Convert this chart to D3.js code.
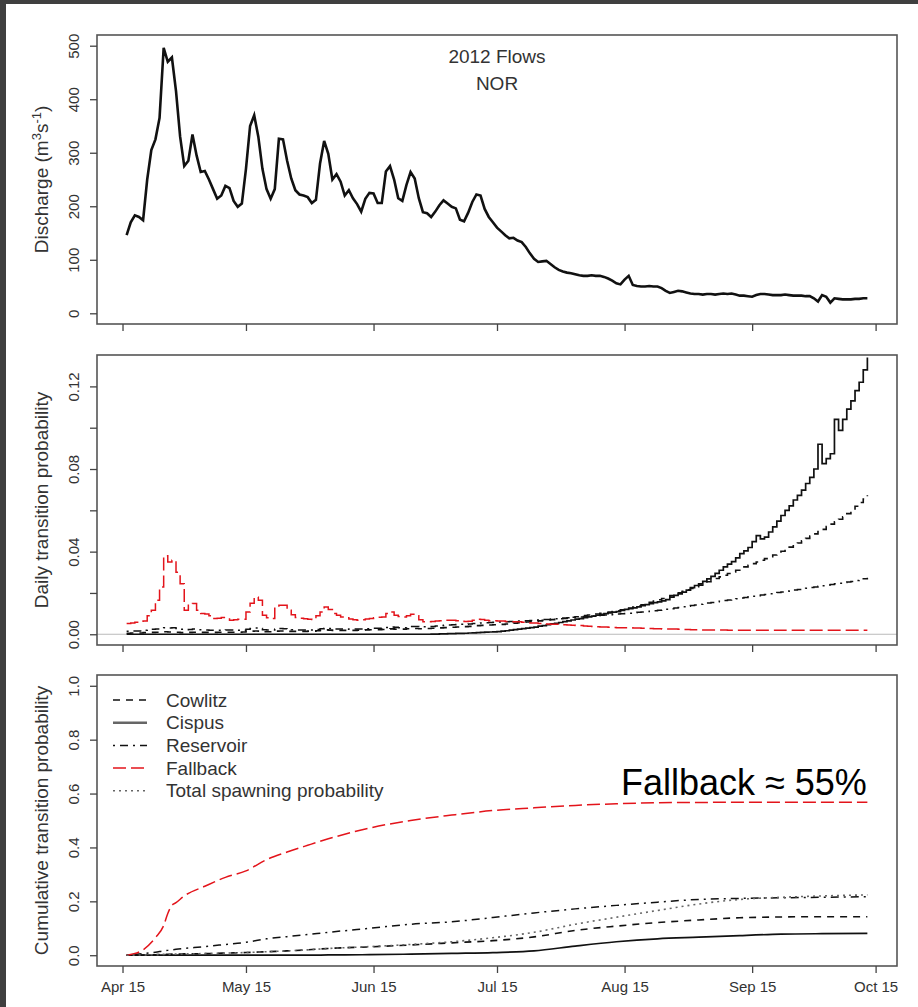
<!DOCTYPE html>
<html>
<head>
<meta charset="utf-8">
<script src="https://cdn.jsdelivr.net/npm/d3@7"></script>
<style>
  body { margin: 0; background: #3f3f3f; }
  svg { display: block; font-family: "Liberation Sans", Arial, sans-serif; }
</style>
</head>
<body>
<div id="chart"></div>
<script>
// 2012 flows, NOR fish: discharge, daily and cumulative transition probabilities

// Daily series start on Apr 16 2012, one value per day to Oct 13
const startDate = new Date(2012, 3, 16)

const discharge = [
  146, 170, 183, 180, 174, 250, 305, 325, 365, 496,
  470, 478, 415, 330, 275, 285, 334, 295, 264, 266,
  250, 232, 214, 220, 238, 234, 210, 199, 205, 270,
  350, 370, 330, 270, 232, 214, 232, 326, 325, 285,
  252, 230, 222, 220, 217, 206, 212, 280, 322, 298,
  250, 260, 246, 220, 230, 215, 204, 190, 214, 225,
  224, 206, 206, 265, 275, 250, 215, 210, 240, 264,
  252, 215, 189, 187, 180, 190, 202, 211, 205, 199,
  196, 175, 172, 188, 208, 222, 220, 195, 180, 170,
  160, 153, 146, 140, 141, 136, 133, 124, 112, 102,
  96, 97, 98, 92, 86, 81, 78, 76, 75, 73,
  71, 70, 70, 71, 70, 70, 68, 65, 61, 56,
  54, 63, 70, 53, 51, 50, 50, 51, 50, 50,
  47, 42, 38, 40, 42, 41, 39, 37, 36, 36,
  35, 36, 36, 35, 36, 37, 36, 37, 35, 33,
  33, 32, 31, 34, 36, 36, 35, 34, 34, 34,
  35, 34, 33, 33, 33, 32, 32, 28, 22, 34,
  31, 20, 28, 27, 26, 26, 26, 27, 27, 28, 28
]

const dailyFallback = [
  .0052, .0055, .0058, .0058, .0064, .0090, .0116, .0165, .0229, .0380,
  .0350, .0358, .0300, .0245, .0116, .0140, .0149, .0116, .0100, .0098,
  .0090, .0076, .0078, .0081, .0080, .0068, .0070, .0073, .0073, .0108,
  .0150, .0180, .0165, .0092, .0080, .0076, .0132, .0140, .0140, .0116,
  .0095, .0081, .0078, .0075, .0073, .0071, .0090, .0108, .0132, .0120,
  .0100, .0092, .0084, .0080, .0074, .0070, .0068, .0070, .0074, .0076,
  .0080, .0082, .0084, .0100, .0108, .0092, .0086, .0084, .0090, .0097,
  .0090, .0070, .0060, .0061, .0062, .0064, .0066, .0068, .0068, .0068,
  .0066, .0063, .0062, .0063, .0068, .0073, .0072, .0068, .0066, .0065,
  .0064, .0064, .0062, .0061, .0060, .0060, .0058, .0056, .0055, .0054,
  .0052, .0051, .0050, .0049, .0048, .0047, .0046, .0045, .0044, .0043,
  .0042, .0040, .0039, .0038, .0036, .0035, .0035, .0034, .0033, .0032,
  .0032, .0031, .0031, .0030, .0030, .0029, .0029, .0028, .0027, .0027,
  .0026, .0026, .0025, .0025, .0024, .0023, .0023, .0022, .0022, .0021,
  .0021, .0021, .0021, .0021, .0021, .0021, .0020, .0020, .0020, .0020,
  .0020, .0020, .0020, .0020, .0020, .0020, .0020, .0020, .0020, .0020,
  .0019, .0019, .0019, .0019, .0019, .0019, .0019, .0019, .0019, .0019,
  .0019, .0019, .0019, .0019, .0019, .0019, .0019, .0019, .0019, .0019, .0019
]

const dailyCowlitz = [
  .0005, .0006, .0006, .0006, .0008, .0009, .0009, .0010, .0010, .0012,
  .0011, .0011, .0010, .0008, .0009, .0009, .0010, .0009, .0009, .0009,
  .0009, .0009, .0010, .0010, .0010, .0010, .0010, .0010, .0011, .0013,
  .0015, .0016, .0015, .0012, .0012, .0012, .0015, .0016, .0016, .0014,
  .0014, .0014, .0014, .0014, .0015, .0015, .0017, .0019, .0021, .0020,
  .0019, .0019, .0019, .0019, .0019, .0019, .0020, .0020, .0021, .0022,
  .0022, .0022, .0023, .0025, .0026, .0025, .0025, .0025, .0027, .0028,
  .0028, .0027, .0027, .0028, .0029, .0030, .0031, .0032, .0033, .0034,
  .0035, .0036, .0037, .0038, .0040, .0042, .0043, .0044, .0045, .0046,
  .0047, .0048, .0050, .0052, .0054, .0056, .0058, .0059, .0061, .0063,
  .0065, .0067, .0069, .0071, .0073, .0075, .0077, .0080, .0082, .0085,
  .0087, .0090, .0093, .0095, .0098, .0101, .0104, .0107, .0110, .0113,
  .0118, .0122, .0127, .0132, .0137, .0143, .0149, .0155, .0161, .0167,
  .0173, .0180, .0187, .0194, .0201, .0208, .0215, .0222, .0230, .0238,
  .0246, .0254, .0262, .0270, .0278, .0286, .0294, .0302, .0310, .0318,
  .0326, .0334, .0342, .0350, .0358, .0366, .0375, .0384, .0393, .0402,
  .0412, .0422, .0432, .0442, .0453, .0464, .0475, .0486, .0497, .0508,
  .0521, .0533, .0545, .0557, .0569, .0584, .0602, .0620, .0638, .0655, .0673
]

const dailyCispus = [
  0, 0, 0, 0, 0, 0, 0, 0, 0, 0,
  0, 0, 0, 0, 0, 0, 0, 0, 0, 0,
  0, 0, 0, 0, 0, 0, 0, 0, 0, 0,
  0, 0, 0, 0, 0, 0, 0, 0, 0, 0,
  0, 0, 0, 0, 0, 0, 0, 0, 0, 0,
  0, 0, 0, 0, 0, 0, 0, 0, 0, 0,
  0, 0, 0, 0, 0, 0, 0, 0, 0, 0,
  0, 0, 0, 0, .0001, .0001, .0002, .0002, .0003, .0003,
  .0004, .0004, .0005, .0006, .0007, .0008, .0009, .0010, .0011, .0012,
  .0013, .0015, .0017, .0020, .0022, .0025, .0027, .0030, .0032, .0035,
  .0039, .0042, .0046, .0050, .0053, .0057, .0061, .0065, .0069, .0073,
  .0076, .0080, .0084, .0088, .0092, .0096, .0100, .0104, .0107, .0110,
  .0116, .0120, .0124, .0128, .0133, .0138, .0143, .0148, .0153, .0157,
  .0162, .0168, .0180, .0188, .0196, .0204, .0214, .0226, .0236, .0244,
  .0256, .0268, .0280, .0295, .0310, .0326, .0340, .0352, .0370, .0390,
  .0404, .0420, .0448, .0478, .0462, .0470, .0495, .0520, .0548, .0575,
  .0600, .0622, .0650, .0672, .0698, .0730, .0760, .0800, .0920, .0826,
  .0850, .0874, .1040, .0987, .1040, .1090, .1130, .1180, .1220, .1280, .1340
]

const dailyReservoir = [
  .0015, .0016, .0016, .0016, .0020, .0022, .0024, .0026, .0028, .0032,
  .0030, .0031, .0028, .0024, .0022, .0023, .0025, .0022, .0022, .0021,
  .0020, .0019, .0019, .0020, .0021, .0021, .0019, .0019, .0020, .0024,
  .0028, .0030, .0028, .0022, .0021, .0021, .0026, .0028, .0027, .0024,
  .0022, .0021, .0021, .0021, .0021, .0021, .0023, .0027, .0029, .0028,
  .0025, .0026, .0025, .0024, .0025, .0025, .0025, .0025, .0027, .0028,
  .0029, .0029, .0030, .0033, .0035, .0034, .0032, .0032, .0035, .0037,
  .0037, .0036, .0036, .0037, .0038, .0040, .0042, .0044, .0045, .0046,
  .0047, .0048, .0049, .0050, .0052, .0054, .0055, .0056, .0057, .0058,
  .0059, .0060, .0061, .0062, .0063, .0064, .0065, .0066, .0067, .0068,
  .0070, .0071, .0072, .0074, .0075, .0077, .0078, .0080, .0081, .0083,
  .0084, .0086, .0087, .0089, .0090, .0092, .0093, .0095, .0096, .0098,
  .0099, .0101, .0102, .0104, .0106, .0108, .0110, .0112, .0114, .0116,
  .0118, .0121, .0124, .0127, .0130, .0133, .0136, .0139, .0142, .0145,
  .0148, .0151, .0154, .0157, .0160, .0163, .0166, .0169, .0172, .0175,
  .0178, .0181, .0184, .0187, .0190, .0193, .0196, .0199, .0202, .0205,
  .0208, .0211, .0214, .0217, .0220, .0223, .0226, .0229, .0232, .0235,
  .0238, .0241, .0244, .0247, .0250, .0253, .0256, .0260, .0264, .0269, .0274
]

// Cumulative probabilities, read at these days after Apr 15
const cumDays = [1, 5, 8, 10, 11, 12, 13, 15, 20, 25, 30, 35, 40, 45, 50, 60, 70, 80, 90, 100, 110, 120, 130, 140, 150, 160, 170, 181]
const cumCowlitz = [0, .001, .002, .003, .003, .004, .004, .005, .006, .008, .010, .013, .016, .020, .025, .031, .038, .046, .054, .068, .092, .108, .121, .131, .139, .142, .143, .143]
const cumCispus = [0, 0, 0, 0, 0, 0, 0, 0, 0, 0, 0, 0, 0, 0, .001, .002, .004, .007, .010, .016, .034, .050, .061, .067, .073, .078, .080, .081]
const cumReservoir = [0, .006, .011, .016, .018, .020, .022, .025, .032, .040, .048, .061, .069, .077, .085, .100, .115, .124, .140, .157, .172, .185, .197, .207, .211, .213, .215, .217]
const cumFallback = [0, .020, .065, .110, .155, .185, .195, .220, .256, .289, .313, .355, .383, .408, .432, .472, .500, .520, .537, .547, .556, .562, .566, .567, .568, .568, .568, .568]
const cumTotal = [0, .001, .002, .003, .003, .004, .004, .005, .006, .008, .010, .013, .016, .020, .025, .032, .040, .050, .065, .085, .115, .141, .166, .190, .207, .215, .220, .224]

// Axis tick values
const xTickDates = [3, 4, 5, 6, 7, 8, 9].map(m => new Date(2012, m, 15))
const dischargeTicks = [0, 100, 200, 300, 400, 500]
const dailyTicks = [0, 0.02, 0.04, 0.06, 0.08, 0.10, 0.12]
const dailyLabelled = [0, 0.04, 0.08, 0.12]
const cumTicks = [0, 0.2, 0.4, 0.6, 0.8, 1.0]
const legendLabels = ['Cowlitz', 'Cispus', 'Reservoir', 'Fallback', 'Total spawning probability']

const width = 918
const height = 1007
const left = 97
const right = 897
const panels = [
  { top: 35, bottom: 324 },
  { top: 355, bottom: 645 },
  { top: 675, bottom: 966 }
]

// line styles (R lty 2, 1, 4, 5, 3)
const styles = {
  cowlitz: { stroke: '#111', dash: '7 6', w: 1.6 },
  cispus: { stroke: '#111', dash: null, w: 1.7 },
  reservoir: { stroke: '#111', dash: '2 5 8 5', w: 1.5 },
  fallback: { stroke: '#e3141b', dash: '13 5', w: 1.5 },
  total: { stroke: '#666', dash: '2 4', w: 1.6 }
}

const svg = d3.select('#chart')
  .append('svg')
  .attr('width', width)
  .attr('height', height)

svg.append('rect').attr('width', width).attr('height', height).attr('fill', '#3f3f3f')
svg.append('rect').attr('x', 6).attr('y', 4).attr('width', width - 6).attr('height', height - 4).attr('fill', '#fff')

// x scale padded 4% like R
const dailyDates = discharge.map((d, i) => d3.timeDay.offset(startDate, i))
const t0 = dailyDates[0].getTime()
const t1 = dailyDates[dailyDates.length - 1].getTime()
const pad = (t1 - t0) * 0.04
const x = d3.scaleTime()
  .domain([new Date(t0 - pad), new Date(t1 + pad)])
  .range([left, right])

const padded = (lo, hi) => [lo - (hi - lo) * 0.04, hi + (hi - lo) * 0.04]
const y1 = d3.scaleLinear().domain(padded(0, 500)).range([panels[0].bottom, panels[0].top])
const y2 = d3.scaleLinear().domain(padded(0, 0.13)).range([panels[1].bottom, panels[1].top])
const y3 = d3.scaleLinear().domain(padded(0, 1)).range([panels[2].bottom, panels[2].top])

const defs = svg.append('defs')
panels.forEach((p, i) => {
  defs.append('clipPath').attr('id', `clip${i}`)
    .append('rect').attr('x', left).attr('y', p.top).attr('width', right - left).attr('height', p.bottom - p.top)
})

function drawYAxis(p, scale, ticks, fmt, title) {
  const g = svg.append('g')
    .attr('transform', `translate(${left},0)`)
    .call(d3.axisLeft(scale).tickValues(ticks).tickSize(7).tickFormat(fmt))
  g.select('.domain').remove()
  g.selectAll('line').attr('stroke', '#444').attr('stroke-width', 1.3)
  g.selectAll('text')
    .attr('x', null).attr('dy', '0.35em')
    .attr('transform', 'translate(-23,0) rotate(-90)')
    .attr('text-anchor', 'middle')
    .attr('fill', '#333')
    .style('font-size', '15px')
  const cy = (p.top + p.bottom) / 2
  return svg.append('text')
    .attr('transform', `translate(41,${cy}) rotate(-90)`)
    .attr('text-anchor', 'middle')
    .attr('dy', '0.35em')
    .attr('fill', '#333')
    .style('font-size', '19px')
    .text(title)
}

function drawXAxis(p, labels) {
  const g = svg.append('g')
    .attr('transform', `translate(0,${p.bottom})`)
    .call(d3.axisBottom(x).tickValues(xTickDates).tickSize(7).tickPadding(8)
      .tickFormat(labels ? d3.timeFormat('%b %d') : () => ''))
  g.select('.domain').remove()
  g.selectAll('line').attr('stroke', '#444').attr('stroke-width', 1.3)
  g.selectAll('text').attr('fill', '#333').style('font-size', '15px')
}

function drawBox(p) {
  svg.append('rect')
    .attr('x', left).attr('y', p.top)
    .attr('width', right - left).attr('height', p.bottom - p.top)
    .attr('fill', 'none').attr('stroke', '#555').attr('stroke-width', 1.6)
}

function drawSeries(i, dates, values, yScale, st, curve) {
  const line = d3.line()
    .x((d, k) => x(dates[k]))
    .y(d => yScale(d))
    .curve(curve)
  svg.append('path')
    .datum(values)
    .attr('clip-path', `url(#clip${i})`)
    .attr('fill', 'none')
    .attr('stroke', st.stroke)
    .attr('stroke-width', st.w)
    .attr('stroke-dasharray', st.dash)
    .attr('d', line)
}

// Panel 1: discharge
drawSeries(0, dailyDates, discharge, y1, { stroke: '#111', dash: null, w: 2.6 }, d3.curveLinear)
drawBox(panels[0])
drawXAxis(panels[0], false)
const t1Title = drawYAxis(panels[0], y1, dischargeTicks, d3.format('d'), '')
t1Title.text('Discharge (m')
t1Title.append('tspan').attr('baseline-shift', 'super').style('font-size', '13px').text('3')
t1Title.append('tspan').text('s')
t1Title.append('tspan').attr('baseline-shift', 'super').style('font-size', '13px').text('-1')
t1Title.append('tspan').text(')')

const mid = (left + right) / 2
svg.append('text').attr('x', mid).attr('y', 63).attr('text-anchor', 'middle')
  .attr('fill', '#333').style('font-size', '19px').text('2012 Flows')
svg.append('text').attr('x', mid).attr('y', 90).attr('text-anchor', 'middle')
  .attr('fill', '#333').style('font-size', '19px').text('NOR')

// Panel 2: daily transition probability
svg.append('line')
  .attr('x1', left).attr('x2', right)
  .attr('y1', y2(0)).attr('y2', y2(0))
  .attr('stroke', '#bbb').attr('stroke-width', 1)
drawSeries(1, dailyDates, dailyCowlitz, y2, styles.cowlitz, d3.curveStepAfter)
drawSeries(1, dailyDates, dailyCispus, y2, styles.cispus, d3.curveStepAfter)
drawSeries(1, dailyDates, dailyReservoir, y2, styles.reservoir, d3.curveStepAfter)
drawSeries(1, dailyDates, dailyFallback, y2, styles.fallback, d3.curveStepAfter)
drawBox(panels[1])
drawXAxis(panels[1], false)
drawYAxis(panels[1], y2, dailyTicks,
  v => dailyLabelled.some(l => Math.abs(l - v) < 1e-9) ? d3.format('.2f')(v) : '',
  'Daily transition probability')

// Panel 3: cumulative transition probability
const cumDates = cumDays.map(d => d3.timeDay.offset(new Date(2012, 3, 15), d))
drawSeries(2, cumDates, cumCowlitz, y3, styles.cowlitz, d3.curveMonotoneX)
drawSeries(2, cumDates, cumCispus, y3, styles.cispus, d3.curveMonotoneX)
drawSeries(2, cumDates, cumReservoir, y3, styles.reservoir, d3.curveMonotoneX)
drawSeries(2, cumDates, cumFallback, y3, styles.fallback, d3.curveMonotoneX)
drawSeries(2, cumDates, cumTotal, y3, styles.total, d3.curveMonotoneX)
drawBox(panels[2])
drawXAxis(panels[2], true)
drawYAxis(panels[2], y3, cumTicks, d3.format('.1f'), 'Cumulative transition probability')

// Legend
const legendKeys = ['cowlitz', 'cispus', 'reservoir', 'fallback', 'total']
const legend = svg.append('g').attr('transform', 'translate(113,700)')
legendLabels.forEach((label, i) => {
  const st = styles[legendKeys[i]]
  const row = legend.append('g').attr('transform', `translate(0,${i * 22.7})`)
  row.append('line')
    .attr('x1', 0).attr('x2', 34)
    .attr('stroke', legendKeys[i] === 'cispus' ? '#666' : st.stroke)
    .attr('stroke-width', legendKeys[i] === 'cispus' ? 2.4 : st.w)
    .attr('stroke-dasharray', st.dash)
  row.append('text')
    .attr('x', 53).attr('dy', '0.35em')
    .attr('fill', '#333')
    .style('font-size', '19px')
    .text(label)
})

// Annotation
svg.append('text')
  .attr('x', 621).attr('y', 795)
  .attr('fill', '#000')
  .style('font-size', '36px')
  .text('Fallback ≈ 55%')
</script>
</body>
</html>
